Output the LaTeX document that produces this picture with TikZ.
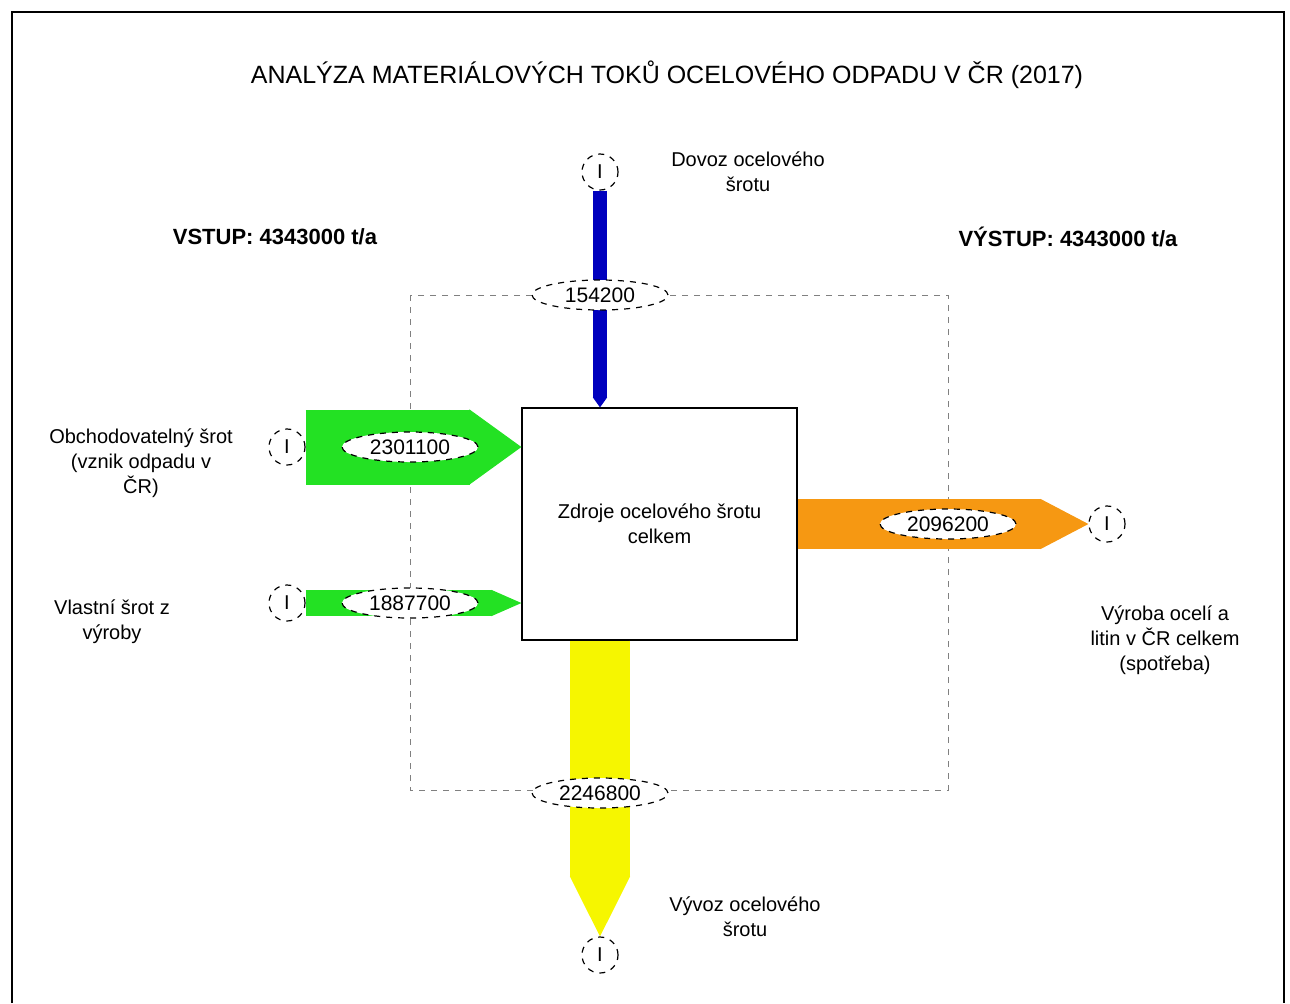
\documentclass[tikz,border=0pt]{standalone}
\usepackage{fontspec}
\setmainfont{Liberation Sans}
\usetikzlibrary{shapes.geometric,arrows.meta}
\definecolor{flowblue}{RGB}{0,0,190}
\definecolor{flowgreen}{RGB}{35,225,35}
\definecolor{floworange}{RGB}{246,152,18}
\definecolor{flowyellow}{RGB}{246,246,0}

\begin{document}
\begin{tikzpicture}
  [x=0.5pt,y=-0.5pt,
   every node/.style={font=\fontsize{10}{12.5}\selectfont, align=center},
   proc/.style={circle, draw, dashed, semithick, fill=white, minimum size=18pt, inner sep=0pt},
   val/.style={ellipse, draw, dashed, semithick, fill=white, minimum height=15pt, minimum width=68pt, inner sep=1pt, font=\fontsize{10.5}{12}\selectfont},
   boundary/.style={draw=gray, dashed}]
  \useasboundingbox (0,0) rectangle (1290,1003);
  \draw[semithick] (12,1003) -- (12,12) -- (1284,12) -- (1284,1003);
  \node[font=\fontsize{12.5}{15}\selectfont] (title) at (667,75) {ANALÝZA MATERIÁLOVÝCH TOKŮ OCELOVÉHO ODPADU V ČR (2017)};
  \node[font=\bfseries\fontsize{11}{13}\selectfont] (vstup) at (275,237) {VSTUP: 4343000 t/a};
  \node[font=\bfseries\fontsize{11}{13}\selectfont] (vystup) at (1068,237) {VÝSTUP: 4343000 t/a};
  \draw[boundary] (410,295) rectangle (948,790);
  \node[draw, semithick, minimum width=137.5pt, minimum height=116pt] (zdroje) at (659.5,524) {Zdroje ocelového šrotu\\celkem};
  \node[proc] (dovoz) at (600,172) {I};
  \node[proc] (obch) at (287,447) {I};
  \node[proc] (vlast) at (287,603) {I};
  \node[proc] (vyroba) at (1107,524) {I};
  \node[proc] (vyvoz) at (600,955) {I};
  \draw[flowblue, line width=7pt, -{Triangle[width=7pt, length=5pt, line width=0.6pt]}] (dovoz.south) -- (dovoz |- zdroje.north);
  \draw[flowgreen, line width=37.5pt, -{Triangle[width=37.5pt, length=26pt, line width=0.6pt]}] (obch.east) -- (obch -| zdroje.west);
  \draw[flowgreen, line width=13pt, -{Triangle[width=13pt, length=15pt, line width=0.6pt]}] (vlast.east) -- (vlast -| zdroje.west);
  \draw[floworange, line width=25pt, -{Triangle[width=25pt, length=24pt, line width=0.6pt]}] (zdroje.east |- vyroba) -- (vyroba.west);
  \draw[flowyellow, line width=30pt, -{Triangle[width=30pt, length=30pt, line width=0.6pt]}] (zdroje.south -| vyvoz) -- (vyvoz.north);
  \foreach \nm/\px/\py/\val in {vdovoz/600/295/154200, vobch/410/447/2301100, vvlast/410/603/1887700,
                                vvyroba/948/524/2096200, vvyvoz/600/793/2246800}
    \node[val] (\nm) at (\px,\py) {\val};
  \node (ldovoz) at (748,172) {Dovoz ocelového\\šrotu};
  \node (lobch) at (141,463) {Obchodovatelný šrot\\(vznik odpadu v\\ČR)};
  \node (lvlast) at (112,622) {Vlastní šrot z\\výroby};
  \node (lvyroba) at (1165,640) {Výroba ocelí a\\litin v ČR celkem\\(spotřeba)};
  \node (lvyvoz) at (745,917) {Vývoz ocelového\\šrotu};
\end{tikzpicture}
\end{document}
